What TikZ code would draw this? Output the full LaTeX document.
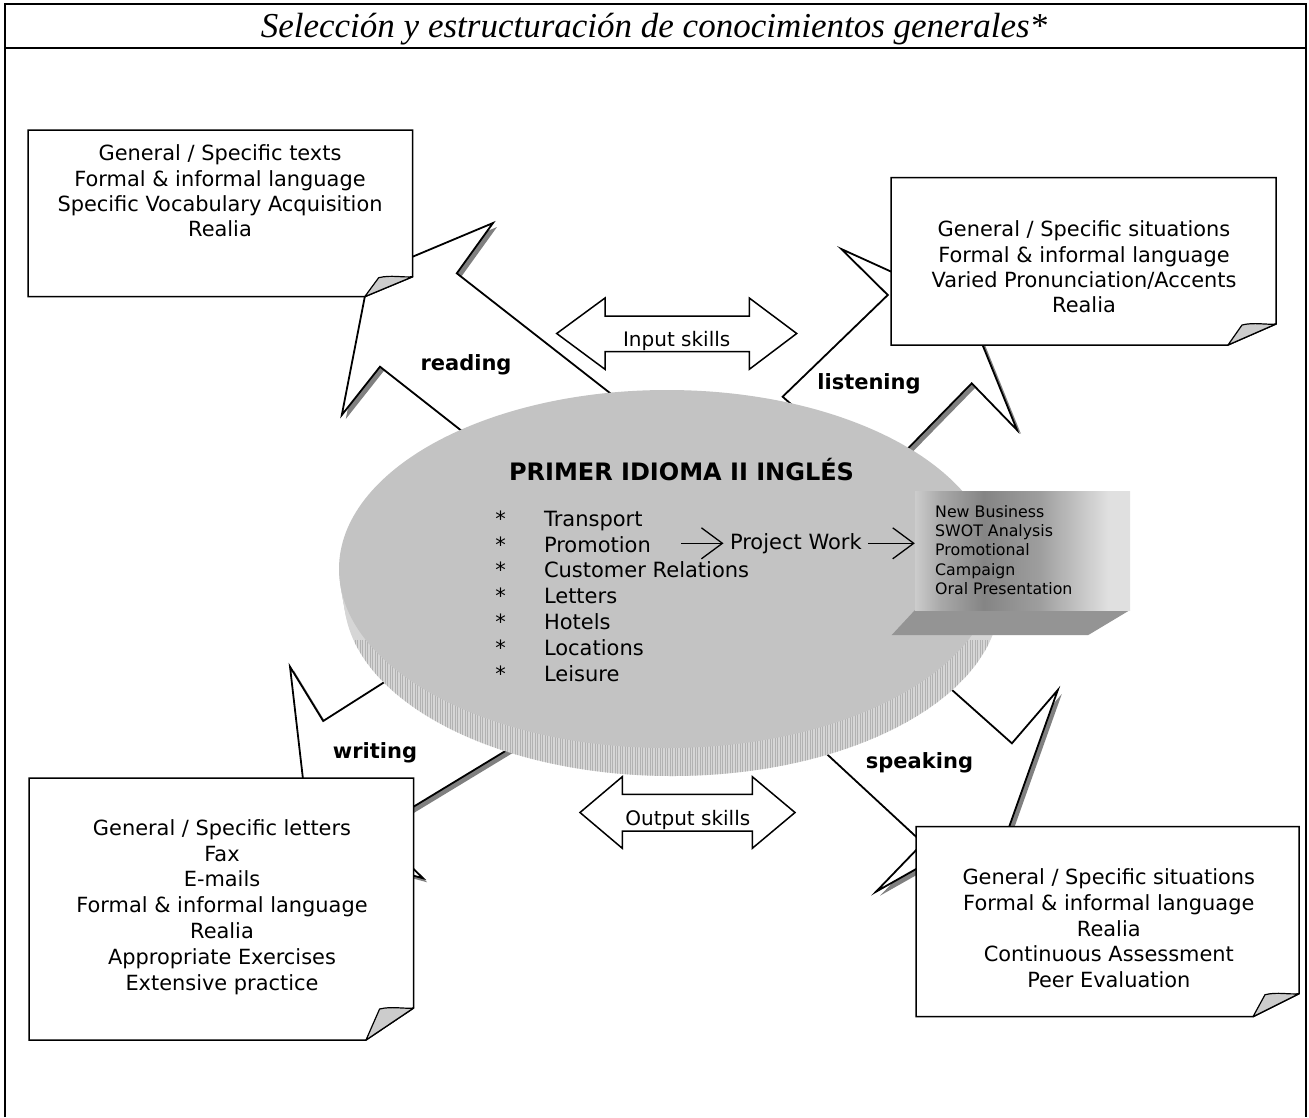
\documentclass[tikz,border=0pt]{standalone}
\usepackage{fontspec}
\setmainfont{DejaVu Sans}
\newfontfamily\titlefont{Liberation Serif}
\usetikzlibrary{arrows.meta}
\definecolor{shad}{gray}{0.50}
\definecolor{foldc}{gray}{0.80}
\definecolor{elltop}{gray}{0.765}
\definecolor{ellside}{gray}{0.84}
\definecolor{hatchc}{gray}{0.70}
\definecolor{boxbot}{gray}{0.58}
\definecolor{nbA}{gray}{0.80}
\definecolor{nbB}{gray}{0.66}
\definecolor{nbC}{gray}{0.52}
\definecolor{nbD}{gray}{0.62}
\definecolor{nbE}{gray}{0.88}
\pgfdeclarehorizontalshading{nbshade}{100bp}{color(0bp)=(nbA); color(25bp)=(nbA); color(31bp)=(nbB); color(41bp)=(nbC); color(54bp)=(nbD); color(70bp)=(nbE); color(75bp)=(nbE); color(100bp)=(nbE)}
\tikzset{
  frameline/.style={line width=1.8pt, draw=black},
  tailshadow/.style={fill=shad, draw=none},
  tail/.style={fill=white, draw=black, line width=1.8pt, line join=miter},
  boxline/.style={fill=white, draw=black, line width=1.5pt},
  foldst/.style={fill=foldc, draw=black, line width=1.2pt, line join=round},
  boxtext/.style={align=center, inner sep=0pt, font=\fontsize{20.9}{25.3}\selectfont},
  boxtextb/.style={align=center, inner sep=0pt, font=\fontsize{20.9}{25.8}\selectfont},
  skilllabel/.style={inner sep=0pt, font=\bfseries\fontsize{21}{25}\selectfont},
  dblarrow/.style={fill=white, draw=black, line width=1.5pt, line join=miter},
  arrowtext/.style={inner sep=0pt, anchor=base, font=\fontsize{20}{24}\selectfont},
  smallarrow/.style={line width=1.3pt, -{Straight Barb[length=21pt, width=31pt, line width=1.3pt]}},
}
\newcommand\foldedbox[6]{%
  \draw[boxline] (#1,#2) -- (#3,#2) -- (#3,#4-#6) -- (#3-#5,#4) -- (#1,#4) -- cycle;
  \draw[foldst] (#3-#5,#4) -- (#3-34,#4-#6+1) .. controls (#3-22,#4-#6-2) and (#3-10,#4-#6+1) .. (#3,#4-#6) -- cycle;
}
\def\tailR{(388.6,266.8) -- (493,223) -- (456.8,273.3) -- (656,429) -- (500.9,461.7) -- (380,366.7) -- (341.8,415) -- (367.1,284.9) -- cycle}
\def\tailL{(906.3,278.5) -- (841.3,249) -- (887.8,295) -- (782.6,396.7) -- (828,436.6) -- (871.3,486) -- (971.7,383.3) -- (1017,430) -- (975.7,328) -- cycle}
\def\tailW{(304.2,789.5) -- (290,666.7) -- (323.2,721) -- (434.7,650.1) -- (553.7,721.7) -- (394.9,818) -- cycle}
\def\tailWs{(400,856) -- (423.2,878.3) -- (400,872) -- cycle}
\def\tailS{(772.8,704) -- (930,849.6) -- (916.2,850) -- (876,891.7) -- (925.8,863.5) -- (1004.3,840.4) -- (1057.8,690) -- (1011.9,743.3) -- (888.5,633.4) -- cycle}
\begin{document}
\begin{tikzpicture}[x=1pt,y=-1pt]
\useasboundingbox (0,0) rectangle (1309,1117);
\fill[white] (0,0) rectangle (1309,1117);
% frame
\draw[frameline] (5,1117) -- (5,4) -- (1306,4) -- (1306,1117);
\draw[frameline] (5,48) -- (1306,48);
\node (title) [anchor=base, inner sep=0pt, font=\titlefont\itshape\fontsize{35}{40}\selectfont] at (654,37) {Selección y estructuración de conocimientos generales*};
% tails (shadows then shapes)
\fill[tailshadow, shift={(4,4)}] \tailR;
\fill[tailshadow, shift={(4,4)}] \tailL;
\fill[tailshadow, shift={(4,4)}] \tailW;
\fill[tailshadow, shift={(4,4)}] \tailWs;
\fill[tailshadow, shift={(4,4)}] \tailS;
\draw[tail] \tailR;
\draw[tail] \tailL;
\draw[tail] \tailW;
\draw[tail] \tailWs;
\draw[tail] \tailS;
% callout boxes
\foldedbox{28}{130}{412.7}{296.7}{48}{20}
\foldedbox{891}{177.5}{1276}{345}{48}{21}
\foldedbox{29}{778}{413.6}{1040}{47.6}{32}
\foldedbox{916}{826.7}{1299}{1016.7}{46}{23}
\node (treading) [boxtext] at (220,191) {General / Specific texts\\Formal \& informal language\\Specific Vocabulary Acquisition\\Realia};
\node (tlistening) [boxtext] at (1084,267) {General / Specific situations\\Formal \& informal language\\Varied Pronunciation/Accents\\Realia};
\node (twriting) [boxtextb] at (222,907) {General / Specific letters\\Fax\\E-mails\\Formal \& informal language\\Realia\\Appropriate Exercises\\Extensive practice};
\node (tspeaking) [boxtextb] at (1108.8,928.3) {General / Specific situations\\Formal \& informal language\\Realia\\Continuous Assessment\\Peer Evaluation};
% central disc: side (extruded down-right), then top face
\foreach \t in {1,...,8} \fill[ellside] (667+5*\t/8,569+28*\t/8) ellipse [x radius=328, y radius=179];
\begin{scope}
  \clip (672,597) ellipse [x radius=328, y radius=179];
  \foreach \hx in {340,342.5,...,1000} \draw[hatchc, line width=0.5pt] (\hx,640) -- (\hx,790);
\end{scope}
\fill[elltop] (667,569) ellipse [x radius=328, y radius=179];
\node (head) [inner sep=0pt, font=\bfseries\fontsize{24}{28}\selectfont] at (681.5,469.5) {PRIMER IDIOMA II INGLÉS};
\node (list) [anchor=west, align=left, inner sep=0pt, font=\fontsize{21}{25.8}\selectfont] at (495.2,596) {\makebox[48.6pt][l]{*}Transport\\\makebox[48.6pt][l]{*}Promotion\\\makebox[48.6pt][l]{*}Customer Relations\\\makebox[48.6pt][l]{*}Letters\\\makebox[48.6pt][l]{*}Hotels\\\makebox[48.6pt][l]{*}Locations\\\makebox[48.6pt][l]{*}Leisure};
% 3D box
\fill[boxbot] (915,610) -- (1130,610) -- (1088.3,635) -- (891.7,635) -- cycle;
\node (nbface) [shade, shading=nbshade, minimum width=215pt, minimum height=118.3pt, inner sep=0pt, draw=none] at (1022.5,550.85) {};
\node (nbtext) [anchor=west, align=left, inner sep=0pt, font=\fontsize{15.8}{19.1}\selectfont] at (935,550) {New Business\\SWOT Analysis\\Promotional\\Campaign\\Oral Presentation};
% project work arrows
\node (pw) [anchor=west, inner sep=0pt, font=\fontsize{21}{25}\selectfont] at (729.8,543.3) {Project Work};
\coordinate (pa) at (681.4,543.3);
\draw[smallarrow, shorten >=6.3pt] (pa) -- (pw.west);
\draw[smallarrow, shorten <=6.4pt] (pw.east) -- (pw.east -| nbface.west);
% skill labels
\node (lread) [skilllabel] at (466,365) {reading};
\node (llisten) [skilllabel] at (869,383.3) {listening};
\node (lwrite) [skilllabel] at (375,753) {writing};
\node (lspeak) [skilllabel] at (919.5,763) {speaking};
% double arrows
\draw[dblarrow] (556.7,333.5) -- (605,298) -- (605,316) -- (749.3,316) -- (749.3,298) -- (796.7,333.5) -- (749.3,369.3) -- (749.3,351.7) -- (605,351.7) -- (605,369.3) -- cycle;
\begin{scope}
  \clip (606,317) rectangle (748.3,350.9);
  \node (tin) [arrowtext] at (676.7,346) {Input skills};
\end{scope}
\draw[dblarrow] (580,812.5) -- (622.3,776.7) -- (622.3,794.3) -- (752.3,794.3) -- (752.3,776.7) -- (795,812.5) -- (752.3,848.3) -- (752.3,831) -- (622.3,831) -- (622.3,848.3) -- cycle;
\begin{scope}
  \clip (623.3,795.3) rectangle (751.3,830.2);
  \node (tout) [arrowtext] at (687.8,825) {Output skills};
\end{scope}
\end{tikzpicture}
\end{document}
